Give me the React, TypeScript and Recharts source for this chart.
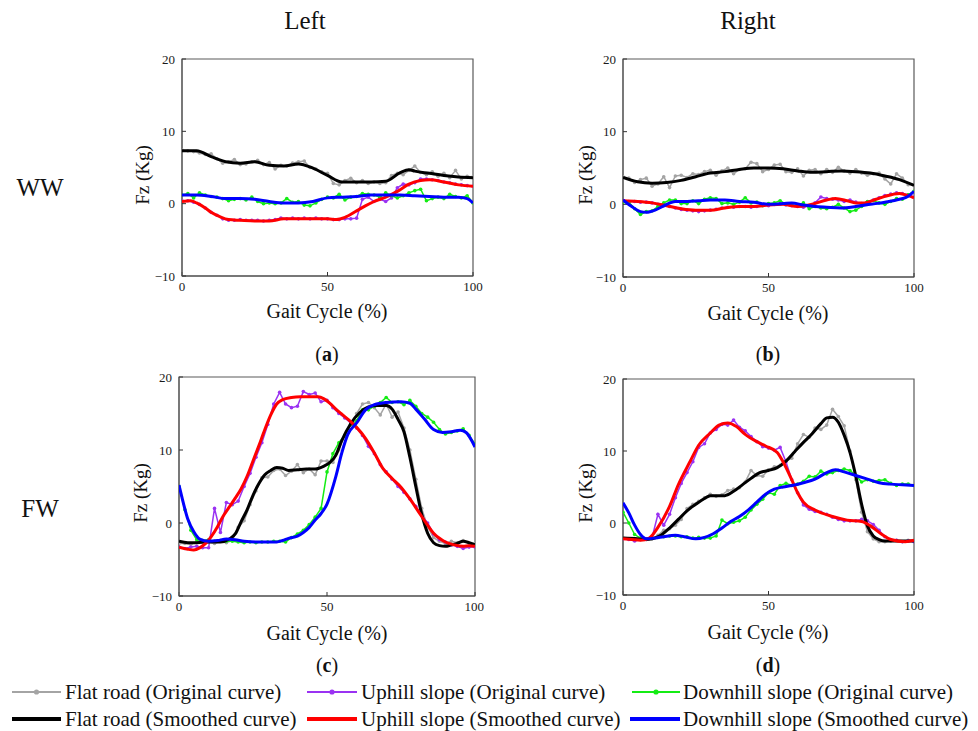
import React from 'react';
import { LineChart, Line, XAxis, YAxis, ReferenceArea } from 'recharts';

// ---------- shared categories ----------
const GRID = [0,2,4,6,8,10,12,14,16,18,20,22,24,26,28,30,32,34,36,38,40,42,44,46,48,50,52,54,56,58,60,62,64,66,68,70,72,74,76,78,80,82,84,86,88,90,92,94,96,98,100];
const X_TICKS = [0, 50, 100];
const Y_TICKS = [-10, 0, 10, 20];

// ---------- panel (a) WW Left ----------
const aFlatOrig = [7.4,7.3,7.2,7.0,6.8,6.9,6.2,5.6,5.8,6.1,5.4,5.5,5.8,6.0,5.4,5.7,4.8,5.3,5.2,5.6,5.8,5.9,5.0,4.8,4.4,4.2,2.8,2.6,3.2,3.5,2.9,3.2,2.8,3.0,2.8,2.9,3.9,4.2,4.0,4.6,5.2,4.3,4.0,4.4,3.8,4.2,3.6,4.6,3.4,3.8,3.7];
const aUpOrig = [0.4,0.4,0.2,-0.1,-0.6,-1.2,-1.6,-2.1,-2.3,-2.3,-2.2,-2.3,-2.3,-2.3,-2.4,-2.3,-2.2,-2.0,-2.1,-2.0,-2.1,-2.0,-2.1,-2.0,-2.1,-2.1,-2.2,-2.2,-2.1,-2.1,-2.0,0.6,0.9,0.3,0.6,0.3,0.8,2.2,2.7,2.6,2.9,3.4,3.4,3.3,3.2,3.0,2.9,2.7,2.6,2.5,2.4];
const aDownOrig = [1.2,1.4,0.8,1.5,1.2,1.0,0.9,0.7,0.4,0.6,0.7,0.5,0.9,0.3,0.0,0.1,0.0,0.1,0.7,0.2,0.3,-0.2,-0.3,0.1,0.6,0.9,0.8,1.3,0.5,0.9,1.0,1.4,1.3,1.2,0.9,1.5,1.1,0.8,1.1,1.5,1.8,2.0,0.4,0.7,0.9,0.7,1.3,1.0,0.8,1.1,0.1];
const aFlatX = [0,5,10,15,20,25,30,35,40,45,50,55,60,65,70,75,78,80,85,90,95,100];
const aFlatY = [7.3,7.3,6.5,5.8,5.6,5.8,5.3,5.2,5.5,4.9,3.9,3.0,3.0,3.0,3.1,4.3,4.7,4.5,4.2,3.9,3.7,3.6];
const aUpX = [0,3,5,8,10,13,16,20,25,30,35,40,45,50,53,56,60,63,66,70,74,78,82,85,90,95,100];
const aUpY = [0.3,0.4,0.1,-0.6,-1.2,-1.8,-2.2,-2.3,-2.4,-2.4,-2.1,-2.1,-2.1,-2.1,-2.2,-1.9,-1.0,-0.3,0.3,0.9,1.7,2.7,3.2,3.3,3.0,2.6,2.4];
const aDownX = [0,5,10,15,20,25,30,35,40,45,50,55,60,65,70,75,80,85,90,95,98,100];
const aDownY = [1.2,1.2,1.0,0.7,0.7,0.6,0.3,0.1,0.1,0.3,0.8,0.9,1.0,1.2,1.2,1.2,1.1,1.0,0.9,0.9,0.7,0.1];

// ---------- panel (b) WW Right ----------
const bFlatOrig = [3.8,3.6,3.0,3.4,3.6,2.5,2.8,3.8,2.3,3.9,4.0,3.7,4.2,4.1,4.5,4.7,4.0,4.6,5.0,4.2,4.8,4.9,5.8,5.6,4.5,4.8,5.4,5.5,4.5,4.4,4.9,3.9,4.7,4.8,4.2,4.8,4.4,5.1,4.6,4.3,4.8,4.3,4.0,4.2,4.3,3.5,2.8,4.2,3.6,2.7,2.7];
const bUpOrig = [0.5,0.4,0.4,0.3,0.3,0.2,0.0,-0.2,-0.3,-0.5,-0.7,-0.8,-0.9,-1.0,-0.9,-0.8,-0.7,-0.5,-0.4,-0.4,-0.3,-0.3,-0.4,-0.3,-0.1,-0.2,0.0,0.1,-0.1,-0.2,-0.3,-0.4,-0.2,0.2,1.0,0.8,0.7,0.6,0.4,0.6,0.3,0.1,0.3,0.6,0.9,1.2,1.4,1.6,1.5,1.3,1.0];
const bDownOrig = [0.3,0.3,-0.6,-1.4,-1.0,-0.9,-0.3,0.2,0.6,0.6,0.1,0.1,0.5,0.1,0.7,0.9,0.8,0.1,0.2,0.0,0.3,0.9,0.2,0.3,-0.2,0.1,0.2,0.5,0.0,-0.1,-0.2,0.2,-0.6,-0.3,-0.5,-0.6,-0.4,0.0,-0.5,-1.0,-0.8,-0.3,0.4,0.5,0.2,0.0,0.4,0.8,0.7,1.3,1.8];
const bFlatX = [0,5,10,15,20,25,30,35,40,45,50,55,60,65,70,75,80,85,90,95,100];
const bFlatY = [3.7,3.1,2.9,3.0,3.3,3.8,4.3,4.5,4.8,5.0,5.0,4.9,4.6,4.4,4.5,4.6,4.5,4.3,3.9,3.4,2.6];
const bUpX = [0,5,10,15,20,25,30,35,40,45,50,55,60,65,70,73,77,80,83,87,90,95,98,100];
const bUpY = [0.5,0.4,0.2,-0.2,-0.6,-0.8,-0.8,-0.5,-0.3,-0.3,-0.1,0.0,-0.3,0.0,0.6,0.8,0.5,0.2,0.2,0.7,1.1,1.5,1.2,0.9];
const bDownX = [0,3,6,8,11,14,18,22,26,30,35,40,45,50,55,58,62,66,70,75,80,85,90,95,98,100];
const bDownY = [0.6,-0.3,-1.0,-1.1,-0.8,-0.2,0.4,0.4,0.5,0.6,0.6,0.4,0.3,0.0,0.1,0.2,-0.1,-0.3,-0.4,-0.5,-0.3,0.0,0.3,0.7,1.1,1.8];

// ---------- panel (c) FW Left ----------
const cFlatOrig = [-2.8,-2.8,-2.9,-2.6,-2.5,-2.6,-2.8,-2.5,-2.7,-2.4,-0.6,0.3,2.5,4.4,6.2,6.3,7.2,7.4,6.5,7.1,8.0,6.9,7.4,6.6,8.5,8.5,8.3,10.0,12.0,13.4,15.0,16.3,16.5,15.8,14.8,16.3,14.5,15.2,13.0,10.0,6.0,2.0,-0.5,-2.0,-2.5,-2.8,-2.5,-2.7,-2.4,-2.8,-2.8];
const cUpOrig = [-3.3,-3.5,-3.3,-3.2,-3.4,-3.4,2.0,-1.3,2.8,2.5,3.0,5.0,6.8,9.0,11.0,13.5,16.3,17.9,16.3,15.8,16.0,18.0,17.6,17.8,16.6,16.8,15.8,15.0,14.4,13.7,13.0,12.0,10.5,9.5,8.0,7.0,6.0,5.0,4.2,3.3,2.3,1.0,0.0,-1.5,-2.3,-2.6,-3.0,-3.2,-3.5,-3.3,-3.3];
const cDownOrig = [5.0,1.8,-1.0,-2.3,-2.4,-2.3,-2.5,-2.4,-2.5,-2.5,-2.6,-2.7,-2.6,-2.7,-2.6,-2.6,-2.5,-2.5,-2.6,-2.0,-1.5,-1.0,-0.2,0.8,2.0,7.0,9.5,11.0,12.0,13.5,14.0,15.5,15.5,16.0,16.5,17.2,16.5,16.6,16.2,16.8,16.0,15.0,14.5,13.8,12.8,12.2,12.4,12.6,12.9,12.0,10.8];
const cFlatX = [0,3,6,10,14,17,19,21,23,25,27,29,31,33,35,37,40,43,46,49,51,53,55,58,61,64,67,70,72,74,76,78,80,82,84,86,88,90,92,94,96,98,100];
const cFlatY = [-2.5,-2.7,-2.7,-2.6,-2.6,-2.2,-1.5,0.2,1.8,3.8,5.4,6.6,7.2,7.6,7.5,7.2,7.3,7.4,7.4,7.8,8.3,9.3,11.3,13.6,15.1,15.9,16.1,16.1,15.6,14.2,12.5,9.0,5.0,1.2,-1.4,-2.7,-3.1,-3.2,-3.0,-2.8,-2.5,-2.7,-3.0];
const cUpX = [0,3,5,7,9,11,13,15,17,19,21,23,25,27,29,31,33,35,38,41,44,47,49,51,53,55,58,60,63,66,69,72,75,78,81,84,86,88,90,93,96,98,100];
const cUpY = [-3.3,-3.6,-3.7,-3.4,-2.8,-1.8,-0.5,1.0,2.2,3.4,4.7,6.4,8.5,10.6,12.8,14.8,16.3,16.9,17.2,17.3,17.3,17.3,17.0,16.4,15.6,14.9,13.9,13.1,11.6,9.6,7.4,6.1,4.9,3.3,1.5,-0.3,-1.4,-2.1,-2.6,-3.0,-3.2,-3.1,-3.2];
const cDownX = [0,1,3,5,7,10,13,16,19,22,26,30,33,35,37,40,42,44,46,48,50,53,55,57,60,63,66,70,75,78,80,83,86,89,92,95,97,99,100];
const cDownY = [5.2,3.5,0.5,-1.2,-2.2,-2.5,-2.4,-2.2,-2.3,-2.5,-2.6,-2.6,-2.6,-2.4,-2.1,-1.8,-1.3,-0.6,0.4,1.3,2.6,6.4,9.6,12.1,13.7,15.5,16.2,16.5,16.6,16.4,15.6,14.2,12.8,12.4,12.5,12.7,12.4,11.2,10.4];

// ---------- panel (d) FW Right ----------
const dFlatOrig = [-2.1,-2.2,-2.2,-2.3,-2.2,-2.2,-1.7,-1.0,-0.8,-0.3,0.5,2.0,2.6,3.0,3.5,4.0,3.7,3.9,4.5,4.7,4.9,5.7,7.3,6.6,6.5,7.4,7.8,8.0,8.6,9.0,11.0,12.3,11.9,13.2,13.0,13.6,15.8,14.8,13.5,10.0,6.0,1.5,-1.2,-2.2,-2.6,-2.6,-2.5,-2.4,-2.6,-2.4,-2.5];
const dUpOrig = [-2.2,-2.3,-2.5,-2.3,-2.3,-2.0,1.2,-0.3,1.2,3.5,5.5,7.0,8.5,10.5,11.0,12.5,13.0,13.7,13.6,14.3,13.3,12.8,12.0,11.3,10.6,10.4,10.1,10.5,8.5,6.0,4.2,2.5,1.9,1.6,1.5,1.2,0.8,0.5,0.3,0.3,0.3,0.5,0.3,-0.2,-1.0,-1.9,-2.3,-2.4,-2.6,-2.5,-2.6];
const dDownOrig = [1.5,0.0,-1.6,-2.1,-2.3,-2.1,-2.0,-1.9,-1.8,-1.8,-1.9,-1.9,-2.1,-2.0,-2.1,-2.1,-1.8,0.4,-0.1,0.1,0.3,0.8,1.8,2.6,3.3,4.2,4.0,5.2,5.5,5.2,5.4,5.8,6.5,6.4,7.2,6.8,7.0,7.3,7.5,7.3,6.6,5.7,6.0,5.8,5.9,6.0,5.5,5.2,5.4,5.4,5.2];
const dFlatX = [0,5,8,10,13,16,19,22,25,28,30,33,35,38,41,44,47,50,53,56,59,62,65,68,70,72,74,76,78,80,82,84,86,88,90,95,100];
const dFlatY = [-2.1,-2.2,-2.3,-2.2,-1.7,-0.7,0.5,1.7,2.6,3.4,3.8,3.8,3.8,4.4,5.3,6.2,7.0,7.3,7.7,8.6,9.9,11.2,12.4,13.8,14.6,14.7,14.0,12.2,9.8,6.5,2.6,-0.4,-1.8,-2.3,-2.5,-2.5,-2.5];
const dUpX = [0,3,6,9,12,16,19,23,26,30,33,36,39,42,46,49,53,55,58,60,62,66,72,77,82,85,89,92,97,100];
const dUpY = [-2.2,-2.3,-2.4,-2.1,-0.6,2.3,5.3,8.5,10.8,12.5,13.6,13.9,13.4,12.3,11.3,10.7,9.8,8.5,6.0,4.2,2.9,1.8,0.9,0.4,0.2,-0.4,-1.6,-2.3,-2.6,-2.4];
const dDownX = [0,2,4,6,8,11,14,18,21,25,28,31,34,37,40,43,46,49,52,55,58,62,66,70,73,76,80,84,88,92,96,100];
const dDownY = [2.8,1.4,-0.3,-1.6,-2.2,-2.1,-1.9,-1.7,-1.9,-2.2,-2.0,-1.5,-0.7,0.2,0.9,1.8,2.9,4.0,4.7,5.0,5.2,5.6,6.1,7.0,7.4,7.1,6.6,6.1,5.6,5.4,5.3,5.2];

// ---------- styling ----------
const C_FLAT_O = '#a4a4a4';
const C_UP_O = '#9a32f2';
const C_DOWN_O = '#14ec14';
const C_FLAT_S = '#000000';
const C_UP_S = '#ff0000';
const C_DOWN_S = '#0000ff';
const SERIF = '"Liberation Serif", "Times New Roman", serif';

const LEGEND_ROW1 = ['Flat road (Original curve)', 'Uphill slope (Original curve)', 'Downhill slope (Original curve)'];
const LEGEND_ROW2 = ['Flat road (Smoothed curve)', 'Uphill slope (Smoothed curve)', 'Downhill slope (Smoothed curve)'];

const zip = (xs: number[], ys: number[]) => xs.map((x, i) => ({ x, y: ys[i] }));
const fmt = (v: number) => (v < 0 ? '\u2212' + Math.abs(v) : String(v));

type PanelProps = {
  left: number; top: number; w: number; h: number; rightPad: number;
  flatO: number[]; upO: number[]; downO: number[];
  flatX: number[]; flatY: number[]; upX: number[]; upY: number[]; downX: number[]; downY: number[];
};

const YW = 52;
const TOP = 20;
const XH = 40;

function Panel(p: PanelProps) {
  const rows = GRID.map((x, i) => ({ x, flat: p.flatO[i], up: p.upO[i], down: p.downO[i] }));
  const tickStyle = { fill: '#1a1a1a', fontSize: 13, fontFamily: SERIF };
  const dot = (c: string) => ({ r: 1.8, fill: c, stroke: c, strokeWidth: 0 });
  const W = p.w + YW + p.rightPad;
  const H = p.h + TOP + XH;
  const margin = { top: TOP, right: p.rightPad, left: 0, bottom: 0 };
  const pos: React.CSSProperties = { position: 'absolute', left: p.left - YW, top: p.top - TOP };
  return (
    <>
      {/* base layer: axes, frame and original curves */}
      <div style={pos}>
        <LineChart width={W} height={H} data={rows} margin={margin}>
          <XAxis
            dataKey="x" type="number" domain={[0, 100]} ticks={X_TICKS} height={XH}
            tick={tickStyle} tickSize={-4} tickMargin={10}
            axisLine={{ stroke: '#666', strokeWidth: 1.3 }} tickLine={{ stroke: '#333' }}
            allowDataOverflow
          />
          <YAxis
            type="number" domain={[-10, 20]} ticks={Y_TICKS} width={YW}
            tick={tickStyle} tickSize={-4} tickMargin={11} tickFormatter={fmt}
            axisLine={{ stroke: '#666', strokeWidth: 1.3 }} tickLine={{ stroke: '#333' }}
            allowDataOverflow
          />
          <ReferenceArea x1={0} x2={100} y1={-10} y2={20} fill="none" stroke="#5a5a5a" strokeWidth={1.2} ifOverflow="visible" />
          <Line dataKey="flat" stroke={C_FLAT_O} strokeWidth={1.5} dot={dot(C_FLAT_O)} isAnimationActive={false} type="linear" />
          <Line dataKey="up" stroke={C_UP_O} strokeWidth={1.5} dot={dot(C_UP_O)} isAnimationActive={false} type="linear" />
          <Line dataKey="down" stroke={C_DOWN_O} strokeWidth={1.5} dot={dot(C_DOWN_O)} isAnimationActive={false} type="linear" />
        </LineChart>
      </div>
      {/* top layer: smoothed curves */}
      <div style={pos}>
        <LineChart width={W} height={H} data={rows} margin={margin}>
          <XAxis dataKey="x" type="number" domain={[0, 100]} ticks={X_TICKS} height={XH} tick={false} tickLine={false} axisLine={false} allowDataOverflow />
          <YAxis type="number" domain={[-10, 20]} ticks={Y_TICKS} width={YW} tick={false} tickLine={false} axisLine={false} allowDataOverflow />
          <Line data={zip(p.flatX, p.flatY)} dataKey="y" stroke={C_FLAT_S} strokeWidth={3} dot={false} isAnimationActive={false} type="monotone" />
          <Line data={zip(p.upX, p.upY)} dataKey="y" stroke={C_UP_S} strokeWidth={3} dot={false} isAnimationActive={false} type="monotone" />
          <Line data={zip(p.downX, p.downY)} dataKey="y" stroke={C_DOWN_S} strokeWidth={3} dot={false} isAnimationActive={false} type="monotone" />
        </LineChart>
      </div>
    </>
  );
}

function Txt(props: { x: number; y: number; size: number; children: React.ReactNode; rotate?: boolean }) {
  return (
    <div
      style={{
        position: 'absolute', left: props.x, top: props.y, fontFamily: SERIF, fontSize: props.size,
        lineHeight: 1, whiteSpace: 'nowrap', color: '#111',
        transform: `translate(-50%, -50%)${props.rotate ? ' rotate(-90deg)' : ''}`,
      }}
    >
      {props.children}
    </div>
  );
}

function LegendItem(props: { x1: number; x2: number; y: number; color: string; thick: boolean; label: string; tx: number }) {
  const w = props.x2 - props.x1;
  return (
    <>
      <svg style={{ position: 'absolute', left: props.x1, top: props.y - 5 }} width={w} height={10}>
        <line x1={0} y1={5} x2={w} y2={5} stroke={props.color} strokeWidth={props.thick ? 4 : 2} />
        {!props.thick && <circle cx={w / 2} cy={5} r={2.6} fill={props.color} />}
      </svg>
      <div style={{ position: 'absolute', left: props.tx, top: props.y - 11, fontFamily: SERIF, fontSize: 21, lineHeight: '22px', whiteSpace: 'nowrap', color: '#111' }}>
        {props.label}
      </div>
    </>
  );
}

export default function App() {
  return (
    <div style={{ position: 'absolute', left: 0, top: 0, width: 978, height: 731, background: '#fff', overflow: 'hidden' }}>
      <Txt x={305} y={20} size={25}>Left</Txt>
      <Txt x={748} y={20} size={25}>Right</Txt>
      <Txt x={40} y={187} size={25}>WW</Txt>
      <Txt x={40} y={508} size={25}>FW</Txt>

      <Panel left={182} top={59} w={291} h={217} rightPad={20}
        flatO={aFlatOrig} upO={aUpOrig} downO={aDownOrig}
        flatX={aFlatX} flatY={aFlatY} upX={aUpX} upY={aUpY} downX={aDownX} downY={aDownY} />
      <Panel left={623} top={59} w={291} h={218} rightPad={20}
        flatO={bFlatOrig} upO={bUpOrig} downO={bDownOrig}
        flatX={bFlatX} flatY={bFlatY} upX={bUpX} upY={bUpY} downX={bDownX} downY={bDownY} />
      <Panel left={179} top={377} w={296} h={219} rightPad={9}
        flatO={cFlatOrig} upO={cUpOrig} downO={cDownOrig}
        flatX={cFlatX} flatY={cFlatY} upX={cUpX} upY={cUpY} downX={cDownX} downY={cDownY} />
      <Panel left={623} top={379} w={291} h={216} rightPad={20}
        flatO={dFlatOrig} upO={dUpOrig} downO={dDownOrig}
        flatX={dFlatX} flatY={dFlatY} upX={dUpX} upY={dUpY} downX={dDownX} downY={dDownY} />

      <Txt x={142} y={175} size={19} rotate>Fz (Kg)</Txt>
      <Txt x={585} y={175} size={19} rotate>Fz (Kg)</Txt>
      <Txt x={140} y={493} size={19} rotate>Fz (Kg)</Txt>
      <Txt x={585} y={493} size={19} rotate>Fz (Kg)</Txt>

      <Txt x={327} y={311} size={20}>Gait Cycle (%)</Txt>
      <Txt x={768} y={313} size={20}>Gait Cycle (%)</Txt>
      <Txt x={327} y={633} size={20}>Gait Cycle (%)</Txt>
      <Txt x={768} y={632} size={20}>Gait Cycle (%)</Txt>

      <Txt x={327} y={354} size={20}>(<b>a</b>)</Txt>
      <Txt x={768} y={354} size={20}>(<b>b</b>)</Txt>
      <Txt x={327} y={665} size={20}>(<b>c</b>)</Txt>
      <Txt x={768} y={665} size={20}>(<b>d</b>)</Txt>

      <LegendItem x1={12} x2={61} y={692} color={C_FLAT_O} thick={false} label={LEGEND_ROW1[0]} tx={65} />
      <LegendItem x1={307} x2={357} y={692} color={C_UP_O} thick={false} label={LEGEND_ROW1[1]} tx={361} />
      <LegendItem x1={632} x2={680} y={692} color={C_DOWN_O} thick={false} label={LEGEND_ROW1[2]} tx={683} />
      <LegendItem x1={12} x2={61} y={719} color={C_FLAT_S} thick label={LEGEND_ROW2[0]} tx={65} />
      <LegendItem x1={307} x2={357} y={719} color={C_UP_S} thick label={LEGEND_ROW2[1]} tx={361} />
      <LegendItem x1={630} x2={680} y={719} color={C_DOWN_S} thick label={LEGEND_ROW2[2]} tx={683} />
    </div>
  );
}
